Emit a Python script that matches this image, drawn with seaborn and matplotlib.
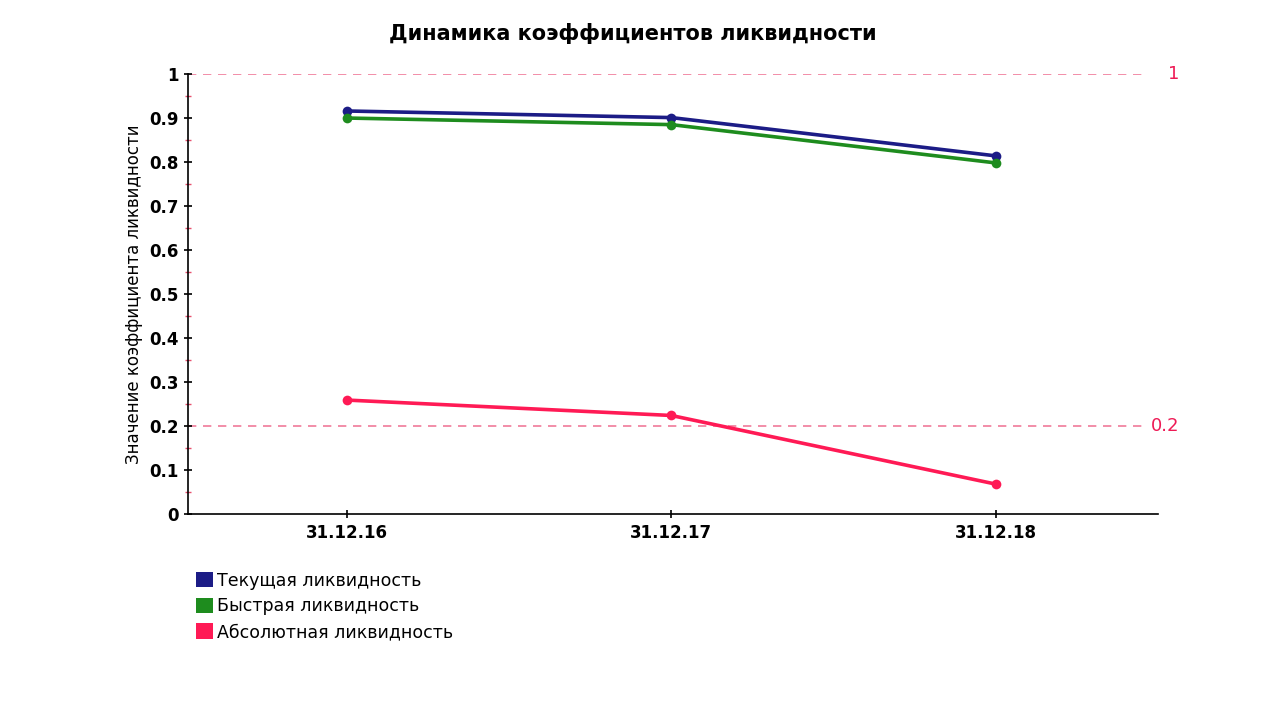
import matplotlib
matplotlib.use("Agg")
import matplotlib.pyplot as plt
import seaborn as sns
import pandas as pd
from matplotlib.patches import Patch
from matplotlib.ticker import MultipleLocator

dates = ["31.12.16", "31.12.17", "31.12.18"]
current = [0.916, 0.901, 0.814]
quick = [0.900, 0.885, 0.798]
absolute = [0.259, 0.224, 0.068]
series_names = ["Текущая ликвидность", "Быстрая ликвидность", "Абсолютная ликвидность"]
ref_levels = [1.0, 0.2]
ref_labels = ["1", "0.2"]
yticks = [0, 0.1, 0.2, 0.3, 0.4, 0.5, 0.6, 0.7, 0.8, 0.9, 1]

colors = ["#1c1c86", "#1e8c1e", "#ff1a55"]

rows = []
for name, vals in zip(series_names, [current, quick, absolute]):
    for i, (d, v) in enumerate(zip(dates, vals)):
        rows.append({"pos": i, "date": d, "value": v, "series": name})
df = pd.DataFrame(rows)

sns.set_theme(style="white")
plt.rcParams['font.family'] = ['DejaVu Sans']
plt.rcParams['text.color'] = 'black'
plt.rcParams['axes.labelcolor'] = 'black'
plt.rcParams['xtick.color'] = 'black'
plt.rcParams['ytick.color'] = 'black'

fig = plt.figure(figsize=(12.65, 7.03), dpi=100)
ax = fig.add_axes([0.1486, 0.2688, 0.7668, 0.6259])

sns.lineplot(data=df, x="pos", y="value", hue="series", palette=colors,
             marker="o", markersize=7, markeredgewidth=0, linewidth=2.6,
             ax=ax, legend=False)

for lvl, lab in zip(ref_levels, ref_labels):
    ax.axhline(lvl, color="#f07a9a", linestyle=(0, (5, 4)), linewidth=1.2, xmax=0.99, zorder=0)
    ax.text(1.01 if lab == "1" else 0.993, lvl, lab, transform=ax.get_yaxis_transform(),
            color="#ee1a55", fontsize=13, va="center", ha="left")

ax.set_xlim(-0.49, 2.5)
ax.set_ylim(0, 1.0)
ax.set_xticks(range(len(dates)))
ax.set_xticklabels(dates, fontsize=12, fontweight="bold")
ax.set_yticks(yticks)
ax.set_yticklabels([str(t) for t in yticks], fontsize=12, fontweight="bold")
ax.yaxis.set_minor_locator(MultipleLocator(0.05))
ax.tick_params(axis="y", which="minor", length=4, color="#e8506e", direction="inout", left=True)
ax.tick_params(axis="both", which="major", length=6, color="black", direction="inout", width=1.2,
               left=True, bottom=True, pad=4)
ax.set_xlabel("")
ax.set_ylabel("Значение коэффициента ликвидности", fontsize=12)

for s in ["top", "right"]:
    ax.spines[s].set_visible(False)
for s in ["left", "bottom"]:
    ax.spines[s].set_color("black")
    ax.spines[s].set_linewidth(1.2)
ax.grid(False)

fig.text(0.5, 0.953, "Динамика коэффициентов ликвидности", ha="center", va="center",
         fontsize=15, fontweight="bold", color="black")

handles = [Patch(facecolor=c, edgecolor="none") for c in colors]
fig.legend(handles, series_names, loc="upper left", bbox_to_anchor=(0.155, 0.187),
           frameon=False, fontsize=12.5, handlelength=1.0, handleheight=1.0,
           handletextpad=0.2, labelspacing=0.45, borderpad=0, borderaxespad=0)

fig.savefig("out.png", dpi=100, facecolor="white")
